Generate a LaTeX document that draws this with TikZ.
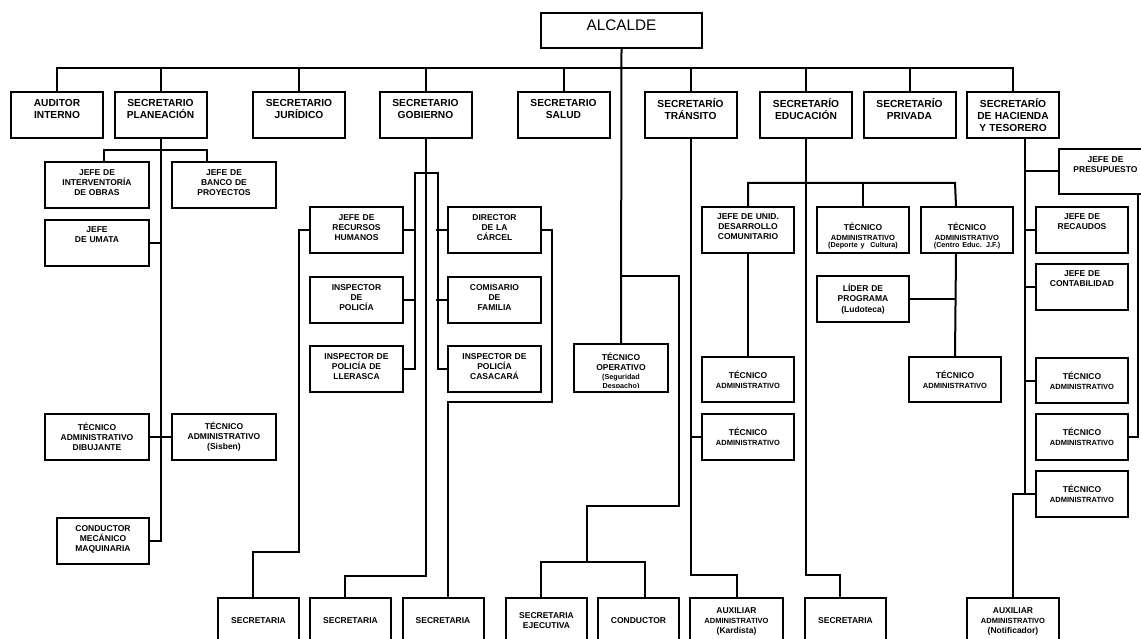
\documentclass[tikz,border=0pt]{standalone}
\usepackage{fontspec}
\setmainfont{Liberation Sans}
\newcommand{\admtxt}{{\fontsize{7.5}{9}\selectfont ADMINISTRATIVO}}
\newcommand{\notetxt}[1]{{\fontsize{7.2}{8}\selectfont #1}}

\begin{document}
\begin{tikzpicture}[x=1pt, y=-1pt, line width=2pt,
    box/.style={draw, inner sep=0pt, align=center, minimum width=92pt, minimum height=46pt,
        text width=78pt, font=\bfseries\fontsize{8.5}{10}\selectfont},
    head/.style={box, font=\bfseries\fontsize{10.2}{12}\selectfont, text depth=24pt},
    lift/.style={text depth=#1},
    secbox/.style={box, minimum width=81pt}]
    \useasboundingbox (0,0) rectangle (1141,639);
    \clip (0,0) rectangle (1141,639);
    \fill[white] (0,0) rectangle (1141,639);
    \node[box, minimum width=161pt, minimum height=35pt, text width=150pt, lift=10pt,
        font=\fontsize{15.3}{18}\selectfont] (alc) at (621.5,30.5) {ALCALDE};
    \node[head] (aud) at (57,115) {AUDITOR\\INTERNO};
    \node[head] (plan) at (160.5,115) {SECRETARIO\\PLANEACIÓN};
    \node[head] (jur) at (299,115) {SECRETARIO\\JURÍDICO};
    \node[head] (gob) at (425.5,115) {SECRETARIO\\GOBIERNO};
    \node[head] (sal) at (563.5,115) {SECRETARIO\\SALUD};
    \node[head] (tra) at (690.5,115) {SECRETARÍO\\TRÁNSITO};
    \node[head] (edu) at (806,115) {SECRETARÍO\\EDUCACIÓN};
    \node[head] (pri) at (909.5,115) {SECRETARÍO\\PRIVADA};
    \node[head] (hac) at (1013,115) {SECRETARÍO\\DE HACIENDA\\Y TESORERO};
    \node[box, minimum width=104pt, lift=24pt] (intv) at (97,185) {JEFE DE\\INTERVENTORÍA\\DE OBRAS};
    \node[box, minimum width=104pt, lift=24pt] (banco) at (224,185) {JEFE DE\\BANCO DE\\PROYECTOS};
    \node[box, minimum width=104pt, lift=26pt] (umata) at (97,243) {JEFE\\DE UMATA};
    \node[box, minimum width=104pt] (dibuj) at (97,437) {TÉCNICO\\ADMINISTRATIVO\\DIBUJANTE};
    \node[box, minimum width=104pt] (sisben) at (224,437) {TÉCNICO\\ADMINISTRATIVO\\(Sisben)};
    \node[box, lift=24pt] (maq) at (103,541) {CONDUCTOR\\MECÁNICO\\MAQUINARIA};
    \node[box, minimum width=93pt, lift=25pt] (rrhh) at (356.5,230) {JEFE DE\\RECURSOS\\HUMANOS};
    \node[box, minimum width=93pt, lift=24pt] (insp) at (356.5,300) {INSPECTOR\\DE\\POLICÍA};
    \node[box, minimum width=93pt, lift=25pt] (ller) at (356.5,369) {INSPECTOR DE\\POLICÍA DE\\LLERASCA};
    \node[box, minimum width=93pt, lift=25pt] (carc) at (494.5,230) {DIRECTOR\\DE LA\\CÁRCEL};
    \node[box, minimum width=93pt, lift=24pt] (comi) at (494.5,300) {COMISARIO\\DE\\FAMILIA};
    \node[box, minimum width=93pt, lift=25pt] (casa) at (494.5,369) {INSPECTOR DE\\POLICÍA\\CASACARÁ};
    \begin{scope}
        \clip (570,340) rectangle (672,387.5);
        \node[box, draw=none, lift=22pt] (tecop) at (621,368) {TÉCNICO\\OPERATIVO\\[-1pt]\notetxt{(Seguridad}\\[-1pt]\notetxt{Despacho)}};
    \end{scope}
    \draw (tecop.south west) rectangle (tecop.north east);
    \node[box] (tectra) at (748,437) {TÉCNICO\\\admtxt};
    \node[box, lift=26pt] (desa) at (748,230) {JEFE DE UNID.\\DESARROLLO\\COMUNITARIO};
    \node[box, text height=19pt] (dep) at (863,230) {TÉCNICO\\\admtxt\\[-3pt]\notetxt{(Deporte y\ \ Cultura)}};
    \node[box, text height=19pt] (cen) at (967,230) {TÉCNICO\\\admtxt\\[-3pt]\notetxt{(Centro Educ. J.F.)}};
    \node[box] (lider) at (863,299) {LÍDER DE\\PROGRAMA\\[1pt](Ludoteca)};
    \node[box, minimum height=45pt] (tecdes) at (748,379.5) {TÉCNICO\\\admtxt};
    \node[box, minimum height=45pt] (teccen) at (955,379.5) {TÉCNICO\\\admtxt};
    \node[box, minimum width=93pt, minimum height=45pt, lift=23pt] (pres) at (1105.5,171.5) {JEFE DE\\PRESUPUESTO};
    \node[box, lift=26pt] (rec) at (1082,230) {JEFE DE\\RECAUDOS};
    \node[box, lift=26pt] (cont) at (1082,287) {JEFE DE\\CONTABILIDAD};
    \node[box, minimum height=45pt] (ta1) at (1082,380.5) {TÉCNICO\\\admtxt};
    \node[box] (ta2) at (1082,437) {TÉCNICO\\\admtxt};
    \node[box] (ta3) at (1082,494) {TÉCNICO\\\admtxt};
    \node[secbox] (sec1) at (258.5,621) {SECRETARIA};
    \node[secbox] (sec2) at (350.5,621) {SECRETARIA};
    \node[secbox] (sec3) at (443,621) {SECRETARIA};
    \node[secbox] (ejec) at (546.5,621) {SECRETARIA\\EJECUTIVA};
    \node[secbox] (condu) at (638.5,621) {CONDUCTOR};
    \node[box, minimum width=93pt] (kard) at (736.5,621) {AUXILIAR\\\admtxt\\(Kardista)};
    \node[secbox] (sec5) at (845.5,621) {SECRETARIA};
    \node[box] (noti) at (1013,621) {AUXILIAR\\\admtxt\\(Notificador)};
    \draw (aud.north) -- ++(0,-22.5) -| (hac.north);
    \foreach \n in {plan,jur,gob,sal,tra,edu,pri}
        \draw (\n.north) -- ++(0,-22.5);
    \draw (alc.south) -- (tecop.north);
    \draw (alc.south |- 0,276) -| (679,506) -| (587,563);
    \draw ([xshift=-5.5pt]ejec.north) -- ++(0,-35) -| ([xshift=6.5pt]condu.north);
    \draw (plan.south) -- (plan.south |- maq.east) -- (maq.east);
    \draw (umata.east) -- (umata.east -| plan.south);
    \draw (dibuj.east) -- (sisben.west);
    \draw ([xshift=7pt]intv.north) |- (plan.south |- 0,150) -| ([xshift=-17pt]banco.north);
    \draw (gob.south) -- ++(0,437) -| ([xshift=-5.5pt]sec2.north);
    \foreach \n in {rrhh,insp}
        \draw (\n.east) -- ++(11,0);
    \draw (ller.east) -- ++(11,0) -- ++(0,-196) -- ++(23,0) -- ++(0,196) -- (casa.west);
    \foreach \n in {carc,comi}
        \draw (\n.west) -- ++(-11,0);
    \draw (rrhh.west) -| (299,552) -| ([xshift=-5.5pt]sec1.north);
    \draw (carc.east) -| (552,402) -| ([xshift=5pt]sec3.north);
    \draw (tra.south) -- ++(0,436) -| (kard.north);
    \draw (tectra.west) -- ++(-11.5,0);
    \draw (edu.south) -- ++(0,436) -| ([xshift=-5.5pt]sec5.north);
    \draw (desa.north) |- (teccen.north |- 0,183) -- ([xshift=-11pt]cen.north);
    \draw (dep.north) -- ++(0,-24);
    \draw (desa.south) -- (tecdes.north);
    \draw ([xshift=-11pt]cen.south) -- (teccen.north);
    \draw (lider.east) -- (lider.east -| teccen.north);
    \draw ([xshift=12pt]hac.south) -- ++(0,355);
    \draw (ta3.west) -| (noti.north);
    \draw (pres.west) -- ++(-34,0);
    \foreach \n in {rec,cont,ta1}
        \draw (\n.west) -- ++(-11,0);
    \draw (pres.south -| 1138,0) |- (ta2.east);
\end{tikzpicture}
\end{document}
